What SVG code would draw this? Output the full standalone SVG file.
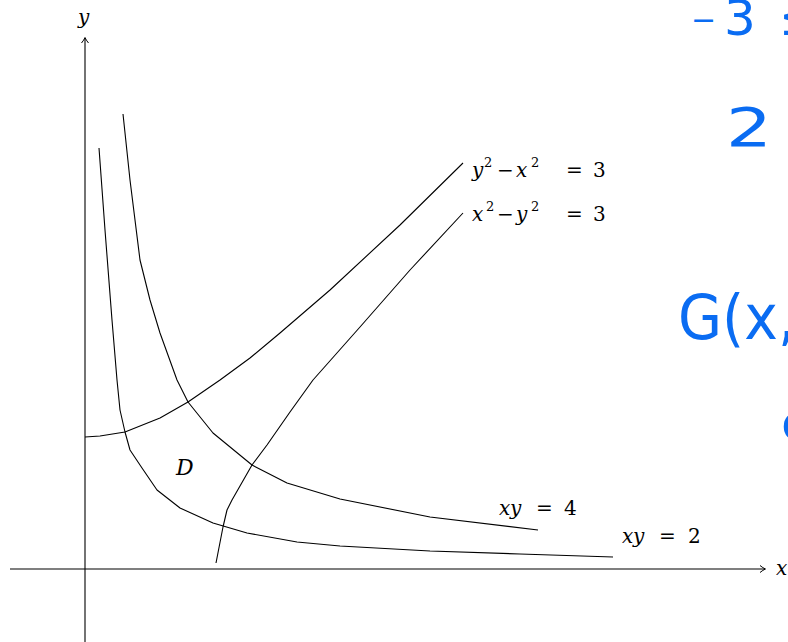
<svg xmlns="http://www.w3.org/2000/svg" width="788" height="642" viewBox="0 0 788 642">
<style>
.ax{stroke:#000;stroke-width:1.1;fill:none}
.cv{stroke:#000;stroke-width:1.1;fill:none;stroke-linejoin:round}
.m{font-family:"DejaVu Serif","Liberation Serif",serif;font-style:italic;font-size:20px;fill:#000}
.n{font-family:"DejaVu Serif","Liberation Serif",serif;font-style:normal;font-size:20px;fill:#000}
.s{font-size:13px}
.hw{font-family:"DejaVu Sans","Noto Sans",sans-serif;fill:#0a6cf2}
</style>
<defs>
<marker id="arr" markerWidth="10" markerHeight="10" refX="7" refY="5" orient="auto" markerUnits="userSpaceOnUse">
<path d="M2,1.5 Q5,4 7.5,5 Q5,6 2,8.5" fill="none" stroke="#000" stroke-width="1"/>
</marker>
</defs>
<g id="axes">
<line class="ax" x1="10" y1="569" x2="765" y2="569" marker-end="url(#arr)"/>
<line class="ax" x1="85" y1="642" x2="85" y2="38" marker-end="url(#arr)"/>
<text class="m" x="776" y="575">x</text>
<text class="m" x="78" y="24">y</text>
</g>
<g id="connectors">
<polyline id="xy2" class="cv" points="99,148 105,230 112,320 117,380 120,410 125,432 130,450 142,468 157,490 180,508 213,523 247,533 297,542 340,546 430,551 520,554 613,557"/>
<polyline id="xy4" class="cv" points="123,114 130,180 140,260 150,300 160,333 177,380 188,402 213,433 252,465 287,483 340,499 430,517 538,530"/>
<polyline id="hyp1" class="cv" points="85,437 100,436 125,432 160,418 188,402 220,380 250,358 280,333 330,290 400,225 463,163"/>
<polyline id="hyp2" class="cv" points="216,563 223,527 227,510 232,500 252,465 267,445 290,412 313,380 360,327 410,270 463,213"/>
</g>
<g id="labels">
<g id="lbl-hyp1">
<text class="m" x="472" y="177">y</text>
<text class="n s" x="484" y="167">2</text>
<text class="n" x="497" y="177">−</text>
<text class="m" x="516" y="177">x</text>
<text class="n s" x="531" y="167">2</text>
<text class="n" x="566" y="177">=</text>
<text class="n" x="593" y="177">3</text>
</g>
<g id="lbl-hyp2">
<text class="m" x="472" y="221">x</text>
<text class="n s" x="486" y="211">2</text>
<text class="n" x="497" y="221">−</text>
<text class="m" x="516" y="221">y</text>
<text class="n s" x="531" y="211">2</text>
<text class="n" x="566" y="221">=</text>
<text class="n" x="593" y="221">3</text>
</g>
<g id="lbl-xy4">
<text class="m" x="499" y="515">x</text>
<text class="m" x="510" y="515">y</text>
<text class="n" x="536" y="515">=</text>
<text class="n" x="564" y="515">4</text>
</g>
<g id="lbl-xy2">
<text class="m" x="622" y="543">x</text>
<text class="m" x="633" y="543">y</text>
<text class="n" x="659" y="543">=</text>
<text class="n" x="688" y="543">2</text>
</g>
<text id="lbl-D" class="m" x="176" y="475" style="font-size:22px">D</text>
</g>
<g id="handwriting">
<text class="hw" x="691" y="30" font-size="30">−</text>
<text class="hw" x="724" y="35" font-size="50">3</text>
<text class="hw" x="779" y="35" font-size="50">≤</text>
<text class="hw" x="726" y="146" font-size="54" textLength="46" lengthAdjust="spacingAndGlyphs">2</text>
<text class="hw" x="678" y="339" font-size="62" textLength="118" lengthAdjust="spacingAndGlyphs">G(x,</text>
<text class="hw" x="781" y="440" font-size="50">c</text>
</g>
</svg>
